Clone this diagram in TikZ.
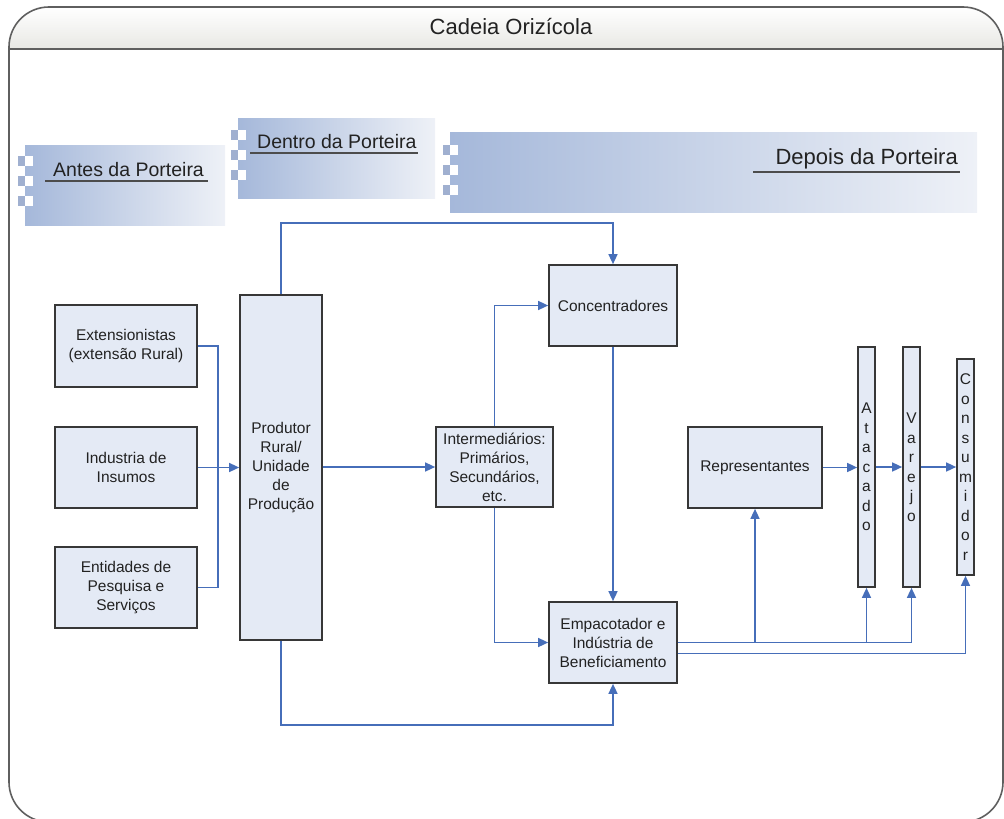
\documentclass[tikz,border=0pt]{standalone}
\usepackage{fontspec}
\setmainfont{Liberation Sans}
\usetikzlibrary{arrows.meta}
\definecolor{lnblue}{RGB}{70,110,185}
\definecolor{boxfill}{RGB}{228,234,245}
\definecolor{boxdraw}{RGB}{55,55,55}
\definecolor{banL}{RGB}{165,184,218}
\definecolor{banR}{RGB}{238,241,247}
\definecolor{chk}{RGB}{160,176,208}
\definecolor{framec}{RGB}{95,95,95}
\definecolor{hdrbot}{RGB}{232,232,228}
\definecolor{txt}{RGB}{34,34,34}
\newcommand\checkers[2]{%
  \foreach \i in {0,2,4}{%
    \fill[chk] (#1-7,#2+11+\i*10) rectangle ++(7,10);
    \fill[white] (#1,#2+11+\i*10) rectangle ++(8,10);
  }}
\begin{document}
\begin{tikzpicture}[x=1pt,y=-1pt,
  box/.style={draw=boxdraw, line width=1.7pt, fill=boxfill, inner sep=0pt, align=center,
    font=\fontsize{15.5}{19}\selectfont, text=txt},
  vbox/.style={box, minimum width=17pt, font=\fontsize{15.5}{19.5}\selectfont},
  conn/.style={draw=lnblue, line width=1.5pt},
  arr/.style={conn, -{Triangle[length=10pt,width=9pt]}},
  bantext/.style={inner sep=0pt, text=txt},
  uline/.style={draw=black!70, line width=1.5pt},
]
\useasboundingbox (0,0) rectangle (1004,819);

% frame and header
\begin{scope}
  \clip[rounded corners=40pt] (9,7) rectangle (1003,822);
  \shade[top color=white, bottom color=hdrbot] (9,7) rectangle (1003,49);
\end{scope}
\draw[framec, line width=1.6pt, rounded corners=40pt] (9,7) rectangle (1003,822);
\draw[framec, line width=2.2pt] (9,49) -- (1003,49);
\node[bantext, font=\fontsize{22}{24}\selectfont] (title) at (511,27) {Cadeia Orizícola};

% banners
\shade[left color=banL, right color=banR] (25,145) rectangle (225,225);
\checkers{25}{145}
\node[bantext, anchor=base west, font=\fontsize{19.5}{22}\selectfont] (antes) at (53,176) {Antes da Porteira};
\draw[uline] (45,181) -- (208,181);

\shade[left color=banL, right color=banR] (238,118) rectangle (435,198);
\checkers{238}{119}
\node[bantext, anchor=base west, font=\fontsize{19.5}{22}\selectfont] (dentro) at (257,148) {Dentro da Porteira};
\draw[uline] (250,153) -- (418,153);

\shade[left color=banL, right color=banR] (450,132) rectangle (977,212);
\checkers{450}{134}
\node[bantext, anchor=base east, font=\fontsize{22}{24}\selectfont] (depois) at (958,164) {Depois da Porteira};
\draw[uline] (753,172) -- (960,172);

% boxes
\node[box, minimum width=142pt, minimum height=82pt] (ext) at (126,346) {Extensionistas\\(extensão Rural)};
\node[box, minimum width=142pt, minimum height=81pt] (ind) at (126,467.5) {Industria de\\Insumos};
\node[box, minimum width=142pt, minimum height=81pt] (ent) at (126,587.5) {Entidades de\\Pesquisa e\\Serviços};
\node[box, minimum width=82pt, minimum height=345pt] (prod) at (281,467.5) {Produtor\\Rural/\\Unidade\\de\\Produção};
\node[box, minimum width=128pt, minimum height=81pt] (conc) at (613,305.5) {Concentradores};
\node[box, minimum width=117pt, minimum height=80pt] (inter) at (494.5,467) {Intermediários:\\Primários,\\Secundários,\\etc.};
\node[box, minimum width=128pt, minimum height=81pt] (emp) at (613,642.5) {Empacotador e\\Indústria de\\Beneficiamento};
\node[box, minimum width=134pt, minimum height=81pt] (rep) at (755,467.5) {Representantes};
\node[vbox, minimum height=240pt] (ata) at (866.5,467) {A\\t\\a\\c\\a\\d\\o};
\node[vbox, minimum height=240pt] (var) at (911.5,467) {V\\a\\r\\e\\j\\o};
\node[vbox, minimum height=216pt] (con) at (965.5,467) {C\\o\\n\\s\\u\\m\\i\\d\\o\\r};

% connectors
\coordinate (jL) at (218,467.5);
\coordinate (topY) at (0,223);
\coordinate (botY) at (0,725);
\draw[conn] (ext.east) -| (jL) |- (ent.east);
\draw[arr] (ind.east) -- (prod.west |- ind.east);
\draw[arr] (prod.north) -- (prod.north |- topY) -| (conc.north);
\draw[arr] (prod.east |- inter.west) -- (inter.west);
\draw[arr] (inter.north) |- (conc.west);
\draw[arr] (inter.south) |- (emp.west);
\draw[arr] (conc.south) -- (emp.north);
\draw[arr] (prod.south) -- (prod.south |- botY) -| (emp.south);
\draw[arr] (emp.east) -| (rep.south);
\draw[arr] (emp.east) -| (ata.south);
\draw[arr] (emp.east) -| (var.south);
\draw[arr] ([yshift=-11pt]emp.east) -| (con.south);
\draw[arr] (rep.east) -- (ata.west |- rep.east);
\draw[arr] (ata.east) -- (var.west);
\draw[arr] (var.east) -- (con.west);
\end{tikzpicture}
\end{document}
